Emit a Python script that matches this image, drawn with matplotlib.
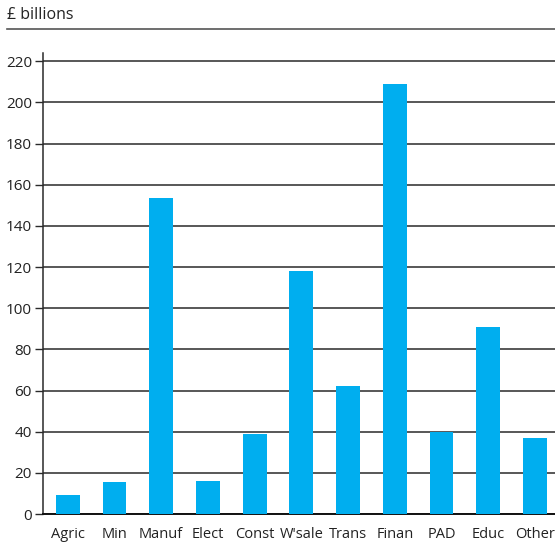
import matplotlib.pyplot as plt
import numpy as np

plt.rcParams["font.family"] = ["Open Sans", "DejaVu Sans"]

sectors = ["Agric", "Min", "Manuf", "Elect", "Const", "W'sale",
           "Trans", "Finan", "PAD", "Educ", "Other"]
values = [9.2, 15.5, 153.4, 16, 38.8, 118, 62, 208.7, 39.8, 90.8, 36.9]
yticks = list(range(0, 221, 20))

BLUE = "#00aeef"
DARK = "#2a2a2a"

fig = plt.figure(figsize=(5.55, 5.44), dpi=100)
ax = fig.add_axes([43 / 555, 1 - 514 / 544, 1 - 43 / 555, (514 - 53) / 544])

x = np.arange(len(sectors))
ax.bar(x, values, width=0.51, color=BLUE, zorder=3)

ax.set_xlim(-0.53, len(sectors) - 1 + 0.43)
ax.set_ylim(0, 224)
ax.set_yticks(yticks)
ax.set_yticklabels([str(t) for t in yticks], fontsize=11, color="#222222")
ax.set_xticks(x)
ax.set_xticklabels(sectors, fontsize=10.5, color="#222222")
ax.tick_params(axis="x", length=0, pad=9)
ax.tick_params(axis="y", length=6, width=1, color=DARK, pad=2)

ax.yaxis.grid(True, color=DARK, linewidth=1.1, zorder=1)
ax.set_axisbelow(True)
for side in ["top", "right"]:
    ax.spines[side].set_visible(False)
ax.spines["left"].set_color(DARK)
ax.spines["left"].set_linewidth(1.1)
ax.spines["bottom"].set_color("#111111")
ax.spines["bottom"].set_linewidth(1.4)

# unit label with a rule underneath
fig.text(7 / 555, 1 - 15 / 544, "£ billions", fontsize=11.5, color="#222222",
         va="center", ha="left")
fig.add_artist(plt.Line2D([7 / 555, 1], [1 - 29 / 544, 1 - 29 / 544],
                          color="#555555", linewidth=1.2))

fig.savefig("out.png", dpi=100)
